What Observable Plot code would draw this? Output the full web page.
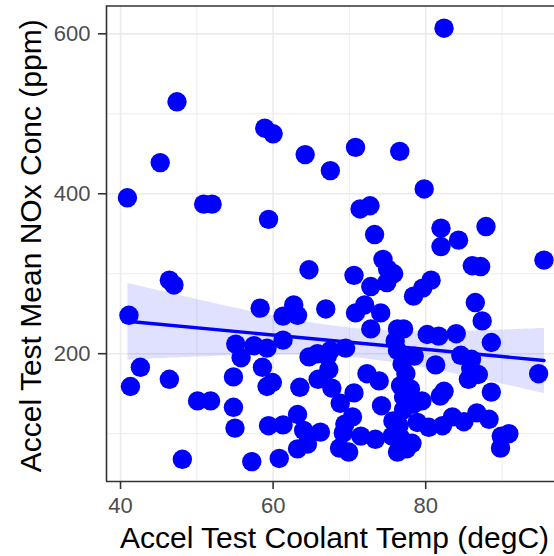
<!DOCTYPE html>
<html><head><meta charset="utf-8">
<script src="https://cdn.jsdelivr.net/npm/d3@7"></script>
<script src="https://cdn.jsdelivr.net/npm/@observablehq/plot@0.6"></script>
<style>body{margin:0;background:#fff;}</style>
</head><body><div id="chart"></div>
<script>
const coolantTemp = [47.4,45.2,40.9,50.9,52.0,58.9,60.0,59.4,64.2,67.5,
  82.4,70.8,76.6,79.8,71.4,72.7,73.3,82.0,84.3,87.9,82.0,
  64.7,46.4,47.0,41.1,58.3,61.3,62.7,63.2,66.9,61.3,55.1,57.5,59.2,55.8,64.7,65.8,
  42.6,41.3,46.4,58.6,54.8,59.2,59.9,63.5,65.9,50.1,51.8,54.8,55.0,59.4,61.3,63.2,64.0,66.2,63.2,64.5,48.1,57.2,60.8,
  95.5,86.1,87.2,74.4,75.0,70.6,75.8,72.8,74.9,80.7,79.6,78.4,86.5,87.4,88.6,
  72.0,70.8,74.1,72.8,76.3,77.1,76.0,76.3,80.2,81.7,84.0,84.6,86.0,81.3,
  69.5,67.5,67.1,67.3,67.7,72.3,73.9,76.7,78.0,70.6,68.8,82.4,81.9,85.6,86.9,88.6,
  74.2,77.1,78.4,79.5,77.1,83.5,85.0,86.7,82.2,88.3,80.4,78.9,75.7,70.4,69.4,69.2,
  71.5,73.4,76.7,75.6,68.7,69.9,76.3,77.5,78.2,89.9,90.9,89.8,94.8,76.9,77.4,78.5,
  76.5,85.9];
const noxConc = [515,439,395,387,387,482,475,368,449,429,
  607,458,453,406,381,385,349,357,342,359,334,
  305,292,286,248,257,247,261,248,256,217,212,210,207,195,196,200,
  183,159,168,183,171,159,164,158,168,141,141,133,107,110,111,124,104,102,81,87,68,65,69,
  317,310,309,318,306,298,300,284,289,292,282,272,264,241,214,
  261,251,251,231,231,231,216,204,224,222,225,198,193,186,
  207,204,197,180,157,175,166,160,156,151,138,153,147,168,174,152,
  135,146,137,141,130,121,115,126,110,118,108,114,116,121,112,101,
  97,93,95,97,82,77,77,81,88,97,100,82,175,187,175,197,
  110,182];
const xMajorTicks = [40, 60, 80];
const xMinorTicks = [50, 70, 90];
const yMajorTicks = [200, 400, 600];
const yMinorTicks = [100, 300, 500];
const xTitle = "Accel Test Coolant Temp (degC)";
const yTitle = "Accel Test Mean NOx Conc (ppm)";

const data = coolantTemp.map((t, i) => ({temp: t, nox: noxConc[i]}));
const X_DOMAIN = [38.16, 96.88];
const Y_DOMAIN = [40.2, 634.8];

const chart = Plot.plot({
  width: 554, height: 556,
  marginLeft: 106, marginRight: 0, marginTop: 5.5, marginBottom: 75,
  x: {domain: X_DOMAIN},
  y: {domain: Y_DOMAIN},
  style: {fontFamily: "'Liberation Sans', Arial, sans-serif", background: "#fff"},
  marks: [
    Plot.ruleX(xMinorTicks, {stroke: "#ebebeb", strokeWidth: 0.9}),
    Plot.ruleY(yMinorTicks, {stroke: "#ebebeb", strokeWidth: 0.9}),
    Plot.ruleX(xMajorTicks, {stroke: "#ebebeb", strokeWidth: 1.6}),
    Plot.ruleY(yMajorTicks, {stroke: "#ebebeb", strokeWidth: 1.6}),
    Plot.dot(data, {x: "temp", y: "nox", r: 9.7, fill: "#0000ff", stroke: "none"}),
    Plot.linearRegressionY(data, {x: "temp", y: "nox", stroke: "#0000ff", strokeWidth: 3.4, fill: "#0000ff", fillOpacity: 0.12, ci: 0.95}),
    Plot.ruleX([X_DOMAIN[0]], {stroke: "#333", strokeWidth: 1.6}),
    Plot.ruleY(Y_DOMAIN, {stroke: "#333", strokeWidth: 1.6}),
    Plot.axisX({ticks: xMajorTicks, tickSize: 8, tickPadding: 8, fontSize: 22, stroke: "#333", strokeWidth: 1.6, fill: "#4d4d4d", label: null}),
    Plot.axisY({ticks: yMajorTicks, tickSize: 8, tickPadding: 8, fontSize: 22, stroke: "#333", strokeWidth: 1.6, fill: "#4d4d4d", label: null}),
    Plot.text([xTitle], {frameAnchor: "bottom", dy: 57, dx: 4, fontSize: 30, fill: "#000", lineAnchor: "middle", textAnchor: "middle"}),
    Plot.text([yTitle], {frameAnchor: "left", rotate: -90, dx: -75, dy: 2, fontSize: 30, fill: "#000", lineAnchor: "middle", textAnchor: "middle"})
  ]
});
document.getElementById("chart").appendChild(chart);
</script>
</body></html>
